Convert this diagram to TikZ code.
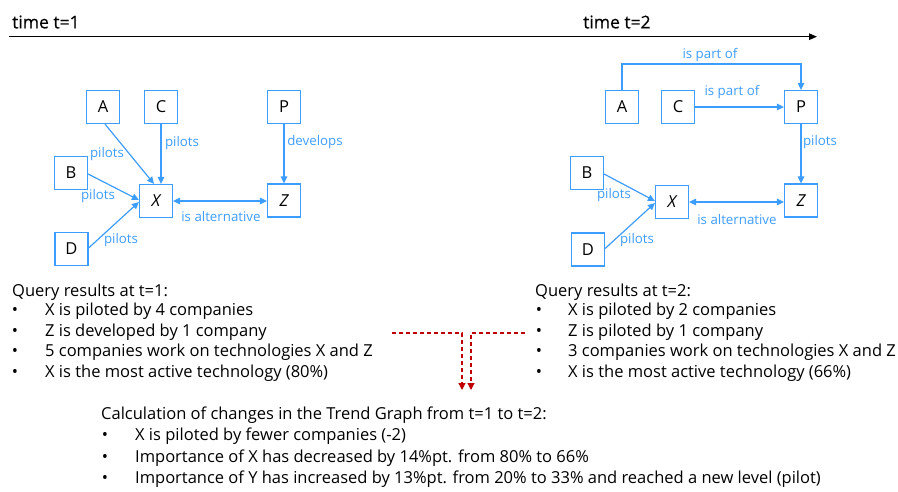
\documentclass[tikz,border=0pt]{standalone}
\usepackage{fontspec}
\setmainfont{Open Sans}
\newfontfamily\titlefont{Open Sans}[FakeBold=0.6]
\usetikzlibrary{arrows.meta}
\definecolor{myblue}{HTML}{3D9DFF}
\definecolor{myred}{HTML}{C00000}
\begin{document}
\begin{tikzpicture}[x=1pt,y=-1pt,
  box/.style={draw=myblue, line width=1.2pt, minimum width=33pt, minimum height=33pt, inner sep=0pt, font=\fontsize{16.5}{18}\selectfont, text=black},
  conn/.style={draw=myblue, line width=1.2pt, -{Triangle[length=7pt,width=6.5pt]}},
  dconn/.style={draw=myblue, line width=1.2pt, {Triangle[length=7pt,width=6.5pt]}-{Triangle[length=7pt,width=6.5pt]}},
  lbl/.style={text=myblue, font=\fontsize{13.3}{15}\selectfont, inner sep=0pt},
  txt/.style={anchor=west, inner sep=0pt, font=\fontsize{16.5}{18}\selectfont},
  bul/.style={inner sep=0pt, font=\fontsize{16.5}{18}\selectfont},
  ttl/.style={anchor=west, inner sep=0pt, font=\titlefont\fontsize{17.5}{20}\selectfont},
  reddash/.style={draw=myred, line width=1.2pt, dash pattern=on 4pt off 3pt, -{Triangle[length=7pt,width=7pt]}},
  timeline/.style={draw=black, line width=1.2pt, -{Triangle[length=8pt,width=6.5pt]}},
]
\useasboundingbox (0,0) rectangle (898,492);

% timeline
\node[ttl] (t1) at (12,22) {time t=1};
\node[ttl] (t2) at (583,22) {time t=2};
\coordinate (tl0) at (9,36.7);
\coordinate (tl1) at (817,36.7);
\draw[timeline] (tl0) -- (tl1);

% ---------- left graph (t=1)
\node[box] (A1) at (103,107) {A};
\node[box] (C1) at (161,107) {C};
\node[box] (P1) at (284,107) {P};
\node[box] (B1) at (71,173) {B};
\node[box] (X1) at (156,201) {\itshape X};
\node[box] (Z1) at (284,200.5) {\itshape Z};
\node[box] (D1) at (71.5,249) {D};

\draw[conn] ([xshift=2pt]A1.south) -- ([xshift=-2pt]X1.north);
\draw[conn] (C1.south) -- (C1.south |- X1.north);
\draw[conn] ([yshift=-1pt]B1.east) -- ([yshift=1pt]X1.west);
\draw[conn] ([yshift=1pt]D1.east) -- ([yshift=-1pt]X1.west);
\draw[dconn] (X1.east) -- (Z1.west |- X1.east);
\draw[conn] (P1.south) -- (Z1.north);

\node[lbl] (lA1) at (107,154) {pilots};
\node[lbl] (lC1) at (182,143) {pilots};
\node[lbl] (lB1) at (98,196) {pilots};
\node[lbl] (lD1) at (121,240) {pilots};
\node[lbl] (lP1) at (315,142) {develops};
\node[lbl] (lX1) at (221,217) {is alternative};

% ---------- right graph (t=2)
\node[box] (A2) at (622,107) {A};
\node[box] (C2) at (678,107) {C};
\node[box] (P2) at (801,107) {P};
\node[box] (B2) at (587,173) {B};
\node[box] (X2) at (672,202) {\itshape X};
\node[box] (Z2) at (801,200.5) {\itshape Z};
\node[box] (D2) at (588,249.5) {D};

\coordinate (k1) at (622,64);
\draw[conn] (A2.north) -- (k1) -- (k1 -| P2.north) -- (P2.north);
\draw[conn] (C2.east) -- (P2.west);
\draw[conn] (P2.south) -- (Z2.north);
\draw[conn] ([yshift=-1pt]B2.east) -- ([yshift=1pt]X2.west);
\draw[conn] ([yshift=1pt]D2.east) -- ([yshift=-1pt]X2.west);
\draw[dconn] (X2.east) -- (Z2.west |- X2.east);

\node[lbl] (lA2) at (710,55) {is part of};
\node[lbl] (lC2) at (732,92) {is part of};
\node[lbl] (lP2) at (820,142) {pilots};
\node[lbl] (lB2) at (614,195) {pilots};
\node[lbl] (lD2) at (637,240) {pilots};
\node[lbl] (lX2) at (737,220) {is alternative};

% ---------- query results t=1
\node[txt] (q1) at (12,292) {Query results at t=1:};
\node[bul] (q1b1) at (15,311.5) {•};
\node[bul] (q1b2) at (15,332) {•};
\node[bul] (q1b3) at (15,352.5) {•};
\node[bul] (q1b4) at (15,373) {•};
\node[txt] (q1t1) at (45,311.5) {X is piloted by 4 companies};
\node[txt] (q1t2) at (45,332) {Z is developed by 1 company};
\node[txt] (q1t3) at (45,352.5) {5 companies work on technologies X and Z};
\node[txt] (q1t4) at (45,373) {X is the most active technology (80\%)};

% ---------- query results t=2
\node[txt] (q2) at (535,292) {Query results at t=2:};
\node[bul] (q2b1) at (539,311.5) {•};
\node[bul] (q2b2) at (539,332) {•};
\node[bul] (q2b3) at (539,352.5) {•};
\node[bul] (q2b4) at (539,373) {•};
\node[txt] (q2t1) at (568,311.5) {X is piloted by 2 companies};
\node[txt] (q2t2) at (568,332) {Z is piloted by 1 company};
\node[txt] (q2t3) at (568,352.5) {3 companies work on technologies X and Z};
\node[txt] (q2t4) at (568,373) {X is the most active technology (66\%)};

% ---------- red dashed connectors
\coordinate (r1s) at (392,333);
\coordinate (r1k) at (462,333);
\coordinate (r1e) at (462,390);
\coordinate (r2s) at (525,333);
\coordinate (r2k) at (471,333);
\coordinate (r2e) at (471,390);
\draw[reddash] (r1s) -- (r1k) -- (r1e);
\draw[reddash] (r2s) -- (r2k) -- (r2e);

% ---------- calculation
\node[txt] (c0) at (101,415) {Calculation of changes in the Trend Graph from t=1 to t=2:};
\node[bul] (cb1) at (105,436.5) {•};
\node[bul] (cb2) at (105,458) {•};
\node[bul] (cb3) at (105,479.5) {•};
\node[txt] (ct1) at (135,436.5) {X is piloted by fewer companies (-2)};
\node[txt] (ct2) at (135,458) {Importance of X has decreased by 14\%pt. from 80\% to 66\%};
\node[txt] (ct3) at (135,479.5) {Importance of Y has increased by 13\%pt. from 20\% to 33\% and reached a new level (pilot)};
\end{tikzpicture}
\end{document}
